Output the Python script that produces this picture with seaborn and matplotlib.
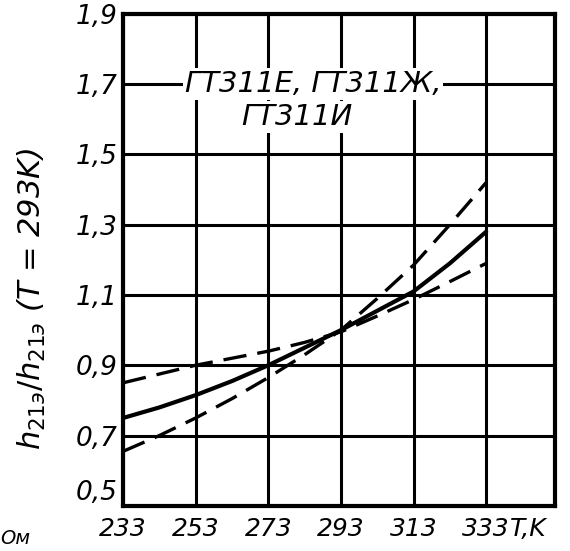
import matplotlib
matplotlib.use("Agg")
import matplotlib.pyplot as plt
import seaborn as sns
import pandas as pd

# --- data ---
temps = [233, 243, 253, 263, 273, 283, 293, 303, 313, 323, 333]
ratio_mean = [0.75, 0.78, 0.815, 0.855, 0.90, 0.95, 1.0, 1.055, 1.11, 1.19, 1.28]
ratio_upper = [0.655, 0.70, 0.75, 0.805, 0.865, 0.93, 1.0, 1.09, 1.185, 1.30, 1.42]
ratio_lower = [0.85, 0.875, 0.90, 0.92, 0.94, 0.965, 0.995, 1.04, 1.087, 1.138, 1.19]

x_ticks = [233, 253, 273, 293, 313, 333]
x_tick_labels = ["233", "253", "273", "293", "313", "333"]
y_ticks = [0.5, 0.7, 0.9, 1.1, 1.3, 1.5, 1.7, 1.9]
y_tick_labels = ["0,5", "0,7", "0,9", "1,1", "1,3", "1,5", "1,7", "1,9"]

label_line1 = "ГТ311Е, ГТ311Ж,"
label_line2 = "ГТ311И"
y_label = r"$h_{21э}/h_{21э}$ (T = 293K)"
x_unit = "T,K"
corner_text = "Ом"

sns.set_theme(style="white")
plt.rcParams["font.family"] = ["DejaVu Sans"]
plt.rcParams["text.color"] = "black"

fig = plt.figure(figsize=(5.70, 5.51), dpi=100)
ax = fig.add_axes([0.216, 0.082, 0.758, 0.893])

df = pd.DataFrame({"T": temps, "mean": ratio_mean, "upper": ratio_upper, "lower": ratio_lower})
sns.lineplot(data=df, x="T", y="mean", ax=ax, color="black", linewidth=3.0)
sns.lineplot(data=df, x="T", y="upper", ax=ax, color="black", linewidth=2.4)
sns.lineplot(data=df, x="T", y="lower", ax=ax, color="black", linewidth=2.4)
ax.lines[1].set_dashes([7, 3.3])
ax.lines[2].set_dashes([7, 3.3])

ax.set_xlim(233, 352)
ax.set_ylim(0.5, 1.9)
ax.set_xticks(x_ticks)
ax.set_xticklabels(x_tick_labels)
ax.set_yticks(y_ticks)
ax.set_yticklabels(y_tick_labels)
ax.grid(True, color="black", linewidth=2.2)
ax.set_axisbelow(True)
for s in ax.spines.values():
    s.set_visible(True)
    s.set_color("black")
    s.set_linewidth(3)

ax.tick_params(axis="both", length=0, labelsize=19, colors="black")
ax.tick_params(axis="x", labelsize=18, pad=8)
ax.tick_params(axis="y", pad=4)
for t in ax.get_xticklabels() + ax.get_yticklabels():
    t.set_fontstyle("italic")
ax.get_yticklabels()[0].set_va("bottom")

ax.set_xlabel("")
ax.set_ylabel(y_label, fontsize=22, fontstyle="italic", color="black")
ax.yaxis.set_label_coords(-0.175, 0.42)

ax.annotate(x_unit, xy=(339.5, 0), xycoords=("data", "axes fraction"),
            xytext=(0, -8), textcoords="offset points", fontsize=18,
            fontstyle="italic", va="top", ha="left", color="black",
            annotation_clip=False)
ax.text(250, 1.7, label_line1, fontsize=21, fontstyle="italic", va="center", ha="left",
        color="black", bbox=dict(facecolor="white", edgecolor="none", pad=1.5))
ax.text(265.5, 1.605, label_line2, fontsize=21, fontstyle="italic", va="center", ha="left",
        color="black", bbox=dict(facecolor="white", edgecolor="none", pad=1.5))

fig.text(0.0, 0.005, corner_text, fontsize=14, fontstyle="italic", ha="left", va="bottom",
         color="black")

fig.savefig("out.png", dpi=100, facecolor="white")
